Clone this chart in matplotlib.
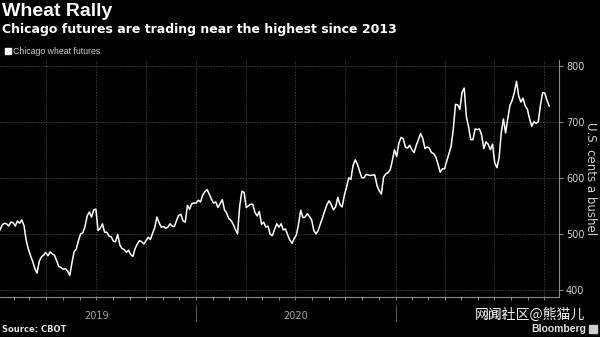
import matplotlib
matplotlib.use("Agg")
import matplotlib.pyplot as plt
import matplotlib.dates as mdates
import matplotlib.transforms as mtransforms
from matplotlib.patches import Rectangle
import pandas as pd

start_date = "2019-01-06"
step = "4D"
wheat = [
    507, 516, 519, 518, 514, 521, 520, 514, 523, 519,
    525, 515, 489, 473, 461, 451, 438, 430, 451, 459,
    462, 467, 461, 468, 464, 462, 452, 442, 440, 437,
    438, 434, 426, 448, 468, 473, 488, 500, 502, 513,
    532, 539, 530, 543, 544, 506, 510, 518, 503, 503,
    496, 495, 487, 486, 499, 480, 474, 472, 467, 471,
    463, 460, 474, 482, 488, 486, 482, 488, 494, 490,
    501, 511, 530, 520, 512, 513, 510, 512, 518, 514,
    513, 524, 533, 535, 523, 521, 551, 544, 554, 555,
    555, 560, 557, 569, 575, 579, 571, 562, 555, 557,
    547, 554, 561, 543, 537, 527, 524, 517, 508, 500,
    550, 576, 574, 547, 550, 553, 553, 538, 532, 540,
    517, 521, 512, 514, 499, 497, 508, 518, 512, 518,
    507, 509, 498, 489, 483, 492, 498, 518, 542, 529,
    530, 536, 531, 525, 506, 500, 506, 518, 529, 541,
    552, 559, 552, 543, 548, 565, 552, 548, 569, 583,
    600, 597, 622, 632, 624, 612, 600, 600, 606, 605,
    604, 605, 605, 586, 577, 571, 601, 607, 609, 614,
    630, 650, 638, 661, 672, 670, 655, 653, 658, 650,
    645, 658, 668, 679, 670, 652, 655, 653, 645, 643,
    637, 624, 610, 616, 616, 630, 643, 656, 687, 731,
    730, 722, 752, 760, 709, 691, 668, 668, 687, 686,
    687, 676, 652, 664, 660, 650, 660, 627, 618, 635,
    680, 705, 680, 706, 729, 738, 752, 772, 746, 735,
    742, 728, 722, 705, 692, 700, 697, 700, 730, 752,
    751, 738, 728,
]
years = [2019, 2020, 2021]
y_ticks = [400, 500, 600, 700, 800]

title = "Wheat Rally"
subtitle = "Chicago futures are trading near the highest since 2013"
legend_label = "Chicago wheat futures"
y_label = "U.S. cents a bushel"
source = "Source: CBOT"
brand = "Bloomberg"
watermark = "网闻社区@熊猫儿"

dates = pd.date_range(start_date, periods=len(wheat), freq=step)

# ---- figure ----
BG = "#000000"
GRID = "#3c3c3c"
AXC = "#8a8a8a"
TXT = "#d0d0d0"

fig = plt.figure(figsize=(6.0, 3.37), dpi=100, facecolor=BG)
ax = fig.add_axes([0.0, 1 - 297 / 337, 559 / 600, (297 - 60) / 337])
ax.set_facecolor(BG)

ax.plot(dates, wheat, color="white", lw=1.1, solid_joinstyle="round", zorder=3)

ax.set_xlim(pd.Timestamp("2019-01-06"), pd.Timestamp("2021-10-28"))
ax.set_ylim(387.5, 810)

# y axis on right
ax.yaxis.tick_right()
ax.yaxis.set_label_position("right")
ax.set_yticks(y_ticks)
ax.set_yticklabels([str(v) for v in y_ticks])
ax.tick_params(axis="y", colors=AXC, labelcolor=TXT, length=3, width=0.8,
               pad=2, labelsize=7)
ax.set_ylabel(y_label, rotation=270, color=TXT, fontsize=8.5,
              labelpad=9, family="DejaVu Sans")

# x axis: quarterly gridlines, monthly ticks
ax.xaxis.set_major_locator(mdates.MonthLocator(bymonth=[1, 4, 7, 10]))
ax.xaxis.set_minor_locator(mdates.MonthLocator())
ax.xaxis.set_major_formatter(plt.NullFormatter())
ax.tick_params(axis="x", which="both", colors=AXC, length=2.5, width=0.7,
               direction="out")

ax.grid(True, which="major", axis="both", color=GRID, lw=0.7,
        linestyle=(0, (1.5, 1.5)), zorder=0)

for side in ["top", "left"]:
    ax.spines[side].set_visible(False)
ax.spines["bottom"].set_color(AXC)
ax.spines["right"].set_color(AXC)
ax.spines["bottom"].set_linewidth(0.8)
ax.spines["right"].set_linewidth(0.8)

# year labels and separators below the axis
trans = mtransforms.blended_transform_factory(ax.transData, fig.transFigure)
for yr in years:
    mid = pd.Timestamp(f"{yr}-07-02")
    ax.text(mdates.date2num(mid), 1 - 316 / 337, str(yr), transform=trans,
            ha="center", va="center", color="#a8a8a8", fontsize=7)
    sep = mdates.date2num(pd.Timestamp(f"{yr + 1}-01-01"))
    if yr < years[-1]:
        ax.plot([sep, sep], [1 - 305 / 337, 1 - 321 / 337], transform=trans,
                color="#555555", lw=0.8, clip_on=False)

# titles
fig.text(2 / 600, 1 - 12 / 337, title, color="white", fontsize=14,
         fontweight="bold", family="Liberation Sans", va="center", ha="left")
fig.text(2 / 600, 1 - 30 / 337, subtitle, color="white", fontsize=9,
         fontweight="bold", family="DejaVu Sans", va="center", ha="left")

# legend
fig.patches.append(Rectangle((5 / 600, 1 - 54 / 337), 6 / 600, 6 / 337,
                             transform=fig.transFigure, color="white"))
fig.text(13 / 600, 1 - 51 / 337, legend_label, color=TXT, fontsize=6.3,
         family="Liberation Sans", va="center", ha="left")

# footer
fig.text(2 / 600, 1 - 329 / 337, source, color="#e0e0e0", fontsize=6,
         fontweight="bold", family="DejaVu Sans", va="center", ha="left")
fig.text(586 / 600, 1 - 329 / 337, brand, color="#e0e0e0", fontsize=7.5,
         fontweight="bold", family="Liberation Sans", va="center", ha="right")
fig.patches.append(Rectangle((589 / 600, 1 - 333 / 337), 8 / 600, 8 / 337,
                             transform=fig.transFigure, color="#cfcfcf"))

# watermark
fig.text(530 / 600, 1 - 315 / 337, watermark, color="white", fontsize=10,
         family=["Noto Sans CJK SC", "DejaVu Sans"], va="center", ha="center",
         alpha=0.95)

fig.savefig("out.png", dpi=100, facecolor=BG)
